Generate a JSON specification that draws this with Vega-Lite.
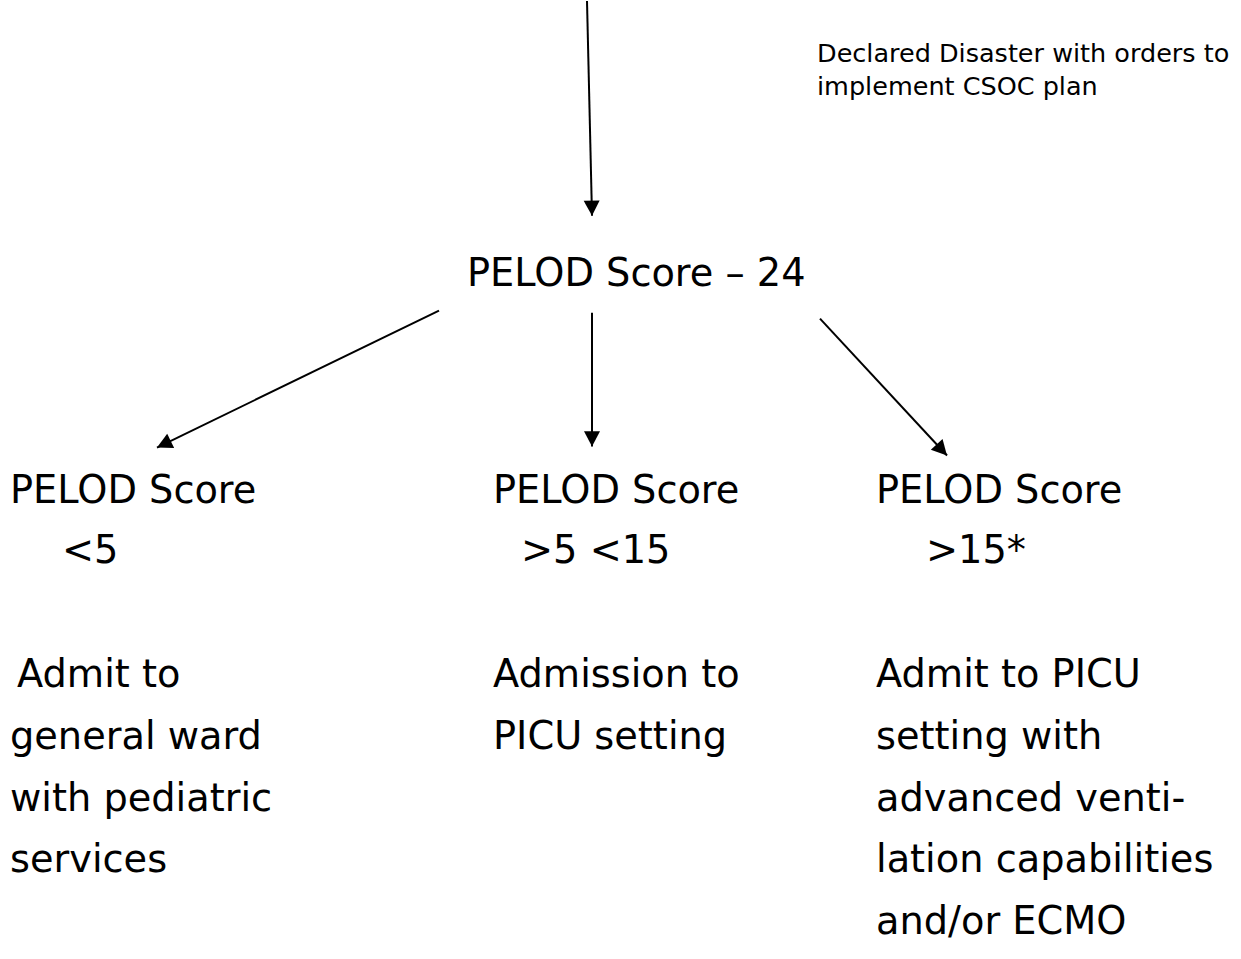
{
  "$schema": "https://vega.github.io/schema/vega-lite/v6.json",
  "width": 1241,
  "height": 959,
  "autosize": {"type": "fit", "contains": "padding"},
  "padding": 0,
  "background": "white",
  "config": {"view": {"stroke": null}},
  "datasets": {
    "arrows": [
      {"id": "declared", "x": 587, "y": 0, "x2": 592, "y2": 215, "heading": -1.3},
      {"id": "low", "x": 439, "y": 310, "x2": 157, "y2": 447, "heading": 64.2},
      {"id": "mid", "x": 592, "y": 312, "x2": 592, "y2": 446, "heading": 0},
      {"id": "high", "x": 820, "y": 318, "x2": 947, "y2": 455, "heading": -42.8}
    ],
    "note": [
      {"text": "Declared Disaster with orders to", "x": 817, "y": 53},
      {"text": "implement CSOC plan", "x": 817, "y": 86}
    ],
    "labels": [
      {"text": "PELOD Score – 24", "x": 467, "y": 274},
      {"text": "PELOD Score", "x": 10, "y": 492},
      {"text": "<5", "x": 62, "y": 552},
      {"text": "PELOD Score", "x": 493, "y": 492},
      {"text": ">5 <15", "x": 521, "y": 552},
      {"text": "PELOD Score", "x": 876, "y": 492},
      {"text": ">15*", "x": 926, "y": 552},
      {"text": "Admit to", "x": 17, "y": 676},
      {"text": "general ward", "x": 10, "y": 738},
      {"text": "with pediatric", "x": 10, "y": 800},
      {"text": "services", "x": 10, "y": 861},
      {"text": "Admission to", "x": 493, "y": 676},
      {"text": "PICU setting", "x": 493, "y": 738},
      {"text": "Admit to PICU", "x": 876, "y": 676},
      {"text": "setting with", "x": 876, "y": 738},
      {"text": "advanced venti-", "x": 876, "y": 800},
      {"text": "lation capabilities", "x": 876, "y": 861},
      {"text": "and/or ECMO", "x": 876, "y": 923}
    ]
  },
  "layer": [
    {
      "data": {"name": "arrows"},
      "mark": {"type": "rule", "color": "black", "strokeWidth": 2},
      "encoding": {
        "x": {"field": "x", "type": "quantitative", "scale": {"domain": [0, 1241], "nice": false, "zero": false}, "axis": null},
        "y": {"field": "y", "type": "quantitative", "scale": {"domain": [0, 959], "nice": false, "zero": false, "reverse": true}, "axis": null},
        "x2": {"field": "x2"},
        "y2": {"field": "y2"}
      }
    },
    {
      "data": {"name": "arrows"},
      "mark": {"type": "point", "shape": "M0,0L-0.5,-0.95L0.5,-0.95Z", "filled": true, "color": "black", "opacity": 1, "size": 1024, "strokeWidth": 0},
      "encoding": {
        "x": {"field": "x2", "type": "quantitative", "scale": {"domain": [0, 1241], "nice": false, "zero": false}, "axis": null},
        "y": {"field": "y2", "type": "quantitative", "scale": {"domain": [0, 959], "nice": false, "zero": false, "reverse": true}, "axis": null},
        "angle": {"field": "heading", "type": "quantitative", "scale": null}
      }
    },
    {
      "data": {"name": "note"},
      "mark": {"type": "text", "align": "left", "baseline": "middle", "font": "DejaVu Sans", "fontSize": 25.5, "color": "black"},
      "encoding": {
        "x": {"field": "x", "type": "quantitative", "scale": {"domain": [0, 1241], "nice": false, "zero": false}, "axis": null},
        "y": {"field": "y", "type": "quantitative", "scale": {"domain": [0, 959], "nice": false, "zero": false, "reverse": true}, "axis": null},
        "text": {"field": "text"}
      }
    },
    {
      "data": {"name": "labels"},
      "mark": {"type": "text", "align": "left", "baseline": "middle", "font": "DejaVu Sans", "fontSize": 38.3, "color": "black"},
      "encoding": {
        "x": {"field": "x", "type": "quantitative", "scale": {"domain": [0, 1241], "nice": false, "zero": false}, "axis": null},
        "y": {"field": "y", "type": "quantitative", "scale": {"domain": [0, 959], "nice": false, "zero": false, "reverse": true}, "axis": null},
        "text": {"field": "text"}
      }
    }
  ]
}
